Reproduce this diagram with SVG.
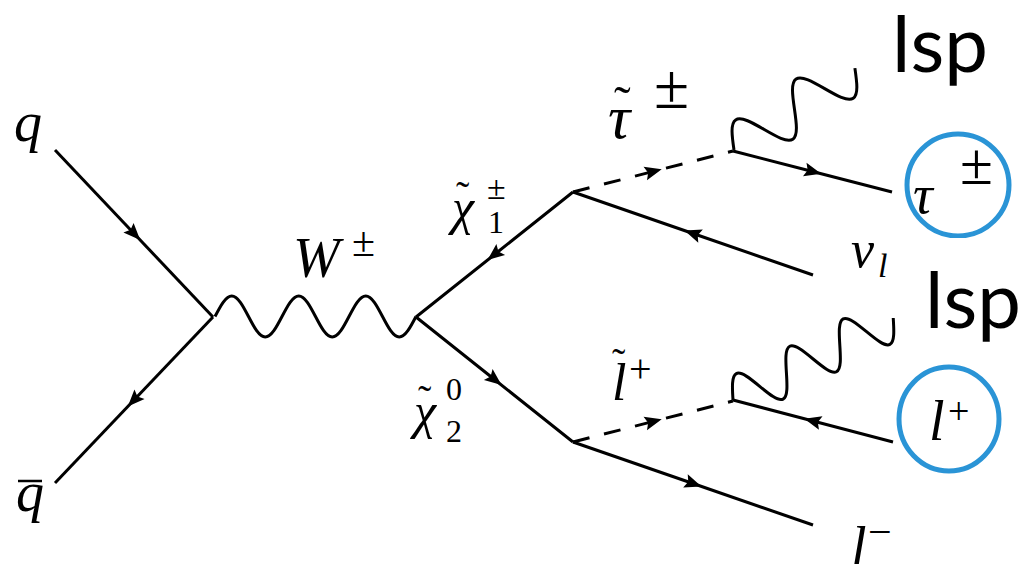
<svg xmlns="http://www.w3.org/2000/svg" width="1019" height="564" viewBox="0 0 1019 564">
<defs>
<marker id="arr" markerUnits="userSpaceOnUse" markerWidth="20" markerHeight="16" refX="0" refY="0" viewBox="-10 -8 20 16" orient="auto" overflow="visible">
<path d="M9,0 L-8,-7 L-5,0 L-8,7 Z" fill="#000"/>
</marker>
<clipPath id="cut"><rect x="0" y="0" width="1019" height="238"/></clipPath>
</defs>
<rect width="1019" height="564" fill="#fff"/>
<text x="14" y="141" font-size="56" font-family="Liberation Serif" font-style="italic">q</text>
<text x="16" y="511" font-size="56" font-family="Liberation Serif" font-style="italic">q</text>
<text x="293" y="277" font-size="56" font-family="Liberation Serif" font-style="italic">W</text>
<text x="352" y="256" font-size="42" font-family="Liberation Serif">±</text>
<text x="452" y="224" font-size="50" font-family="Liberation Serif" font-style="italic">χ</text>
<text x="456" y="209" font-size="40" font-family="Liberation Serif">˜</text>
<text x="487" y="199" font-size="34" font-family="Liberation Serif">±</text>
<text x="488" y="233" font-size="32" font-family="Liberation Serif">1</text>
<text x="414" y="428" font-size="50" font-family="Liberation Serif" font-style="italic">χ</text>
<text x="418" y="413" font-size="40" font-family="Liberation Serif">˜</text>
<text x="446" y="400" font-size="32" font-family="Liberation Serif">0</text>
<text x="446" y="442" font-size="32" font-family="Liberation Serif">2</text>
<text x="608" y="138" font-size="62" font-family="Liberation Serif" font-style="italic">τ</text>
<text x="614" y="121" font-size="50" font-family="Liberation Serif">˜</text>
<text x="654" y="108" font-size="64" font-family="Liberation Serif">±</text>
<text x="851" y="267" font-size="52" font-family="Liberation Serif" font-style="italic">ν</text>
<text x="878" y="277" font-size="34" font-family="Liberation Serif" font-style="italic">l</text>
<text x="612" y="400" font-size="52" font-family="Liberation Serif" font-style="italic">l</text>
<text x="612" y="376" font-size="40" font-family="Liberation Serif">˜</text>
<text x="629" y="382" font-size="40" font-family="Liberation Serif">+</text>
<text x="851" y="566" font-size="56" font-family="Liberation Serif" font-style="italic">l</text>
<text x="868" y="546" font-size="42" font-family="Liberation Serif">−</text>
<text x="913" y="213" font-size="55" font-family="Liberation Serif" font-style="italic">τ</text>
<text x="960" y="184" font-size="60" font-family="Liberation Serif">±</text>
<text x="929" y="440" font-size="56" font-family="Liberation Serif" font-style="italic">l</text>
<text x="948" y="424" font-size="38" font-family="Liberation Serif">+</text>
<text x="892" y="72" font-size="78" font-family="Lato">lsp</text>
<text x="925" y="328" font-size="78" font-family="Lato">lsp</text>
<g id="connectors" fill="none" stroke="#000" stroke-width="3" stroke-linejoin="round">
<line x1="18" y1="481" x2="42" y2="481" stroke-width="2.5"/>
<path marker-mid="url(#arr)" d="M55,150 L134,233.5 L213,317"/>
<path marker-mid="url(#arr)" d="M213,317 L134,400 L55,483"/>
<path d="M215,316.5 c5.46,-10.5 10.69,-20.5 16.75,-20.5 c6.06,0 11.29,10 16.75,20.5 c5.46,10.5 10.69,20.5 16.75,20.5 c6.06,0 11.29,-10 16.75,-20.5 c5.46,-10.5 10.69,-20.5 16.75,-20.5 c6.06,0 11.29,10 16.75,20.5 c5.46,10.5 10.69,20.5 16.75,20.5 c6.06,0 11.29,-10 16.75,-20.5 c5.46,-10.5 10.69,-20.5 16.75,-20.5 c6.06,0 11.29,10 16.75,20.5 c5.46,10.5 10.69,20.5 16.75,20.5 c6.06,0 11.29,-10 16.75,-20.5"/>
<path marker-mid="url(#arr)" d="M573,192 L494.5,254.5 L416,317"/>
<path marker-mid="url(#arr)" d="M416,317 L494.5,379.5 L573,442"/>
<path stroke-dasharray="17 15" d="M573,192 L733,151"/>
<path marker-mid="url(#arr)" stroke="none" d="M573,192 L653,171.5 L733,151"/>
<path marker-mid="url(#arr)" d="M813,275 L693,233.5 L573,192"/>
<path marker-mid="url(#arr)" d="M733,151 L812.5,171.5 L892,192"/>
<path stroke-dasharray="17 15" d="M573,442 L733,401"/>
<path marker-mid="url(#arr)" stroke="none" d="M573,442 L653,421.5 L733,401"/>
<path marker-mid="url(#arr)" d="M573,442 L693,483.5 L813,525"/>
<path marker-mid="url(#arr)" d="M893,442 L813,421 L733,400"/>
<path transform="translate(734,150) rotate(-34.1)" d="M0,0 c5.95,-12.3 11.65,-24 18.25,-24 c6.6,0 12.3,11.7 18.25,24 c5.95,12.3 11.65,24 18.25,24 c6.6,0 12.3,-11.7 18.25,-24 c5.95,-12.3 11.65,-24 18.25,-24 c6.6,0 12.3,11.7 18.25,24 c5.95,12.3 11.65,24 18.25,24 c6.6,0 12.3,-11.7 18.25,-24"/>
<path transform="translate(733,400) rotate(-27.1)" d="M0,0 c4.89,-11.26 9.57,-22 15,-22 c5.43,0 10.11,10.74 15,22 c4.89,11.26 9.57,22 15,22 c5.43,0 10.11,-10.74 15,-22 c4.89,-11.26 9.57,-22 15,-22 c5.43,0 10.11,10.74 15,22 c4.89,11.26 9.57,22 15,22 c5.43,0 10.11,-10.74 15,-22 c4.89,-11.26 9.57,-22 15,-22 c5.43,0 10.11,10.74 15,22 c4.89,11.26 9.57,22 15,22 c5.43,0 10.11,-10.74 15,-22"/>
</g>
<g id="tauRing"><circle cx="958" cy="185" r="51" fill="none" stroke="#2a94d6" stroke-width="5" clip-path="url(#cut)"/></g>
<g id="lplusRing"><ellipse cx="949" cy="419" rx="50" ry="52" fill="none" stroke="#2a94d6" stroke-width="5"/></g>
</svg>
